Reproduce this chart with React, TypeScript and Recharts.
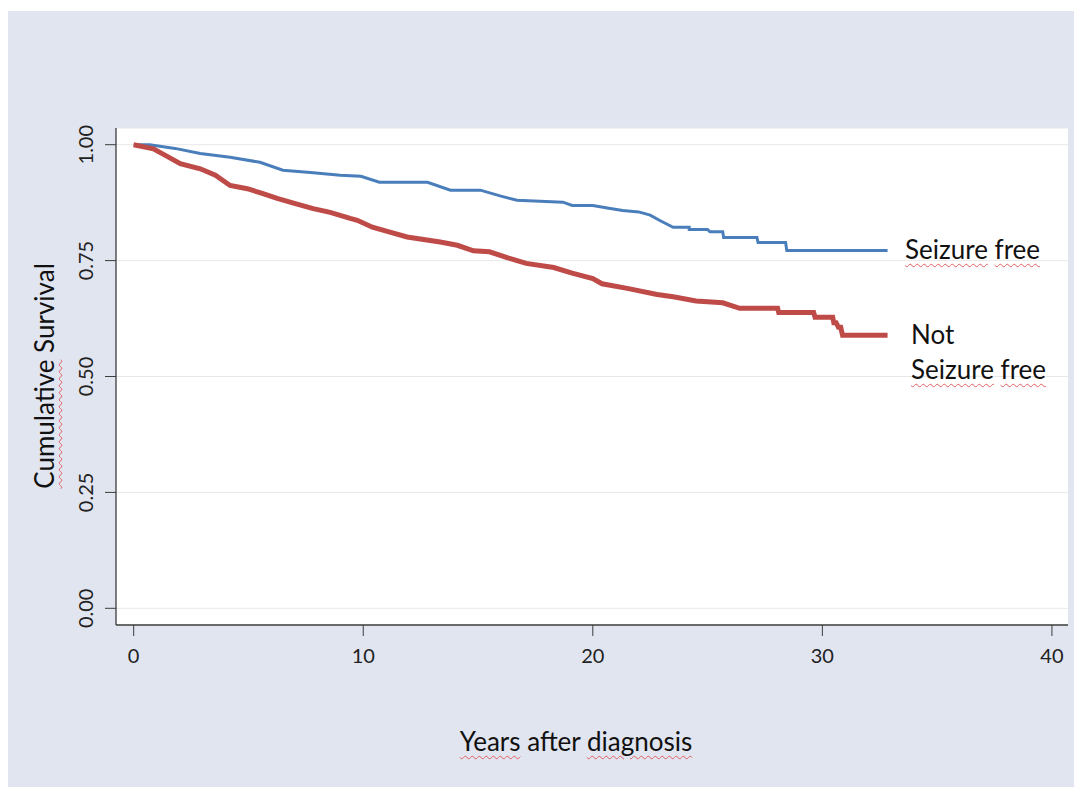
import React from 'react';
import { LineChart, Line, XAxis, YAxis, CartesianGrid } from 'recharts';

const W = 1074;
const H = 776;

// Kaplan-Meier curves, vertices (years, cumulative survival).
// Repeated years are the visible vertical drops of the step curve.
const freeYears = [0, 0.7, 1.8, 2.9, 4.2, 5.5, 6.5, 7.7, 9.0, 9.9, 10.7, 12.8, 13.8, 15.1, 16.0, 16.7, 17.7, 18.7, 19.1, 20.0, 20.7, 21.3, 22.0, 22.5, 22.9, 23.5, 23.8, 24.2, 24.2, 25.0, 25.1, 25.66, 25.7, 27.15, 27.2, 28.4, 28.45, 32.84];
const freeSurv = [1.0, 1.0, 0.992, 0.981, 0.973, 0.962, 0.945, 0.94, 0.934, 0.932, 0.919, 0.919, 0.902, 0.902, 0.889, 0.88, 0.878, 0.876, 0.869, 0.869, 0.863, 0.858, 0.855, 0.848, 0.837, 0.822, 0.822, 0.822, 0.817, 0.817, 0.812, 0.812, 0.8, 0.8, 0.789, 0.789, 0.772, 0.772];

const notYears = [0, 0.86, 1.38, 2.03, 2.9, 3.56, 4.2, 4.95, 5.6, 6.25, 7.04, 7.82, 8.56, 9.43, 9.74, 10.4, 11.2, 11.91, 13.35, 14.1, 14.8, 15.5, 16.3, 17.1, 18.3, 19.1, 20.0, 20.4, 21.5, 22.8, 23.5, 24.5, 25.66, 26.4, 28.05, 28.1, 29.62, 29.68, 30.45, 30.5, 30.6, 30.7, 30.8, 30.88, 32.84];
const notSurv = [1.0, 0.991, 0.977, 0.959, 0.948, 0.934, 0.912, 0.905, 0.895, 0.884, 0.873, 0.862, 0.854, 0.841, 0.837, 0.822, 0.811, 0.801, 0.79, 0.783, 0.771, 0.769, 0.756, 0.744, 0.735, 0.723, 0.711, 0.7, 0.69, 0.677, 0.672, 0.663, 0.659, 0.647, 0.647, 0.638, 0.638, 0.628, 0.628, 0.616, 0.616, 0.606, 0.606, 0.589, 0.589];

const xTicks = [0, 10, 20, 30, 40];
const yTicks = [0, 0.25, 0.5, 0.75, 1];

const freeData = freeYears.map((t, i) => ({ t, s: freeSurv[i] }));
const notData = notYears.map((t, i) => ({ t, s: notSurv[i] }));

const FONT = 'Lato, "Open Sans", sans-serif';
const BLUE = '#4a7ebb';
const RED = '#be4b48';

/* ── ticks ─────────────────────────────────────────────── */
function XTick({ x, y, payload }: any) {
  return (
    <text x={x} y={y} dy="0.35em" textAnchor="middle" fontFamily={FONT} fontSize={20} fill="#222">
      {payload.value}
    </text>
  );
}

function YTick({ x, y, payload }: any) {
  return (
    <text x={x} y={y} dy="0.35em" textAnchor="middle" fontFamily={FONT} fontSize={20} fill="#222"
      transform={`rotate(-90, ${x}, ${y})`}>
      {Number(payload.value).toFixed(2)}
    </text>
  );
}

/* ── spell-check squiggle ──────────────────────────────── */
function Sq({ children }: { children: React.ReactNode }) {
  return (
    <span style={{
      textDecorationLine: 'underline',
      textDecorationStyle: 'wavy',
      textDecorationColor: '#e06060',
      textDecorationThickness: '1px',
      textUnderlineOffset: '4px',
    }}>{children}</span>
  );
}

const textBase: React.CSSProperties = {
  position: 'absolute',
  fontFamily: FONT,
  fontSize: 26,
  lineHeight: '30px',
  color: '#111',
  whiteSpace: 'nowrap',
};

export default function App() {
  return (
    <div style={{ paddingTop: 3 }}>
      <div style={{ position: 'relative', width: W, height: H, background: '#e1e5f0' }}>
        <LineChart width={W} height={H} margin={{ top: 117, right: 14, bottom: 122, left: 48 }}>
          <CartesianGrid vertical={false} fill="#ffffff" stroke="#e8e8e8" />
          <XAxis type="number" dataKey="t" domain={[-0.77, 40.7]} ticks={xTicks} allowDataOverflow
            height={40} tickSize={11} tickMargin={20}
            axisLine={{ stroke: '#3c3c3c', strokeWidth: 1.3 }} tickLine={{ stroke: '#3c3c3c' }}
            tick={<XTick />} />
          <YAxis type="number" dataKey="s" domain={[-0.036, 1.036]} ticks={yTicks} allowDataOverflow
            width={60} tickSize={11} tickMargin={19}
            axisLine={{ stroke: '#3c3c3c', strokeWidth: 1.3 }} tickLine={{ stroke: '#3c3c3c' }}
            tick={<YTick />} />
          <Line data={freeData} dataKey="s" type="linear" stroke={BLUE} strokeWidth={3}
            dot={false} activeDot={false} isAnimationActive={false} />
          <Line data={notData} dataKey="s" type="linear" stroke={RED} strokeWidth={5}
            dot={false} activeDot={false} isAnimationActive={false} />
        </LineChart>

        <div style={{ ...textBase, left: 897, top: 222.6 }}>
          <Sq>Seizure</Sq> <Sq>free</Sq>
        </div>
        <div style={{ ...textBase, left: 903, top: 308.3 }}>Not</div>
        <div style={{ ...textBase, left: 903, top: 342.6 }}>
          <Sq>Seizure</Sq> <Sq>free</Sq>
        </div>

        <div style={{ ...textBase, left: 568, top: 715, transform: 'translateX(-50%)' }}>
          <Sq>Years</Sq> after <Sq>diagnosis</Sq>
        </div>
        <div style={{ ...textBase, left: 36, top: 364.5, transform: 'translate(-50%, -50%) rotate(-90deg)' }}>
          <Sq>Cumulative</Sq> Survival
        </div>
      </div>
    </div>
  );
}
